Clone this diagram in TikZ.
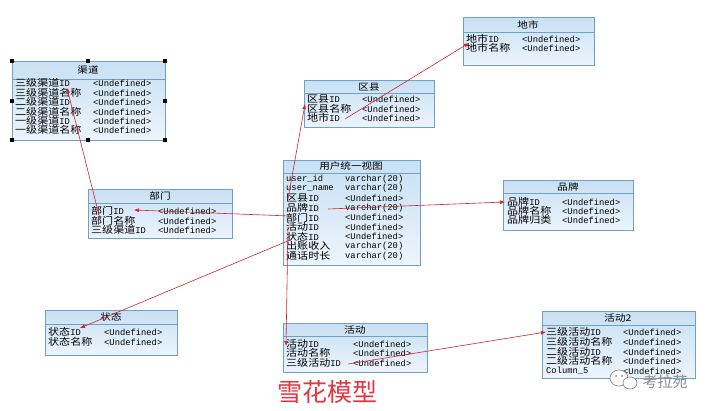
\documentclass[tikz,border=0pt]{standalone}
\usepackage{fontspec}
\setmonofont{Liberation Mono}
\newfontfamily\zhf[FakeStretch=1.15]{Noto Sans CJK SC}
\newfontfamily\zhtitle{Noto Sans CJK SC}
\newcommand\zh[1]{{\zhf\fontsize{9.6}{9}\selectfont #1}}
\usetikzlibrary{arrows.meta}
\definecolor{boxc}{RGB}{110,160,200}
\definecolor{topc}{RGB}{200,224,243}
\definecolor{botc}{RGB}{236,244,252}
\definecolor{lnc}{RGB}{215,35,40}
\definecolor{ttl}{RGB}{232,50,60}
\definecolor{wm}{RGB}{140,140,140}
\tikzset{
 tbl/.style={draw=boxc, line width=0.9pt, top color=topc, bottom color=botc},
 sep/.style={draw=boxc, line width=0.6pt},
 hdr/.style={inner sep=0pt, font=\zhf\fontsize{9.2}{9}\selectfont},
 row/.style={anchor=west, inner sep=0pt, font=\ttfamily\fontsize{8.8}{9}\selectfont},
 rel/.style={draw=lnc, line width=0.6pt, -{Latex[length=5pt,width=4pt]}},
 handle/.style={fill=black, minimum size=4pt, inner sep=0pt},
}
\begin{document}
\begin{tikzpicture}[x=1pt,y=-1pt]
\useasboundingbox (0,0) rectangle (714,410);
\fill[white] (0,0) rectangle (714,410);

% ---------- 渠道
\draw[tbl] (12,61) rectangle (165,140);
\draw[sep] (12,79) -- (165,79);
\node[hdr] (qdh) at (88,70) {渠道};
\node[row] (qd1) at (15,83) {\zh{三级渠道}ID};
\node[row] (qd2) at (15,93) {\zh{三级渠道名称}};
\node[row] (qd3) at (15,102) {\zh{二级渠道}ID};
\node[row] (qd4) at (15,112) {\zh{二级渠道名称}};
\node[row] (qd5) at (15,121) {\zh{一级渠道}ID};
\node[row] (qd6) at (15,130) {\zh{一级渠道名称}};
\foreach \y/\n in {83/1,93/2,102/3,112/4,121/5,130/6}
  \node[row] (qdt\n) at (93,\y) {<Undefined>};
\foreach \p/\q [count=\i] in {12/61,88/61,165/61,12/101,165/101,12/140,88/140,165/140}
  \node[handle] (hd\i) at (\p,\q) {};

% ---------- 部门
\draw[tbl] (88,189) rectangle (232,238);
\draw[sep] (88,203) -- (232,203);
\node[hdr] (bmh) at (160,196) {部门};
\node[row] (bm1) at (91,211) {\zh{部门}ID};
\node[row] (bm2) at (91,221) {\zh{部门名称}};
\node[row] (bm3) at (91,230) {\zh{三级渠道}ID};
\foreach \y/\n in {211/1,221/2,230/3}
  \node[row] (bmt\n) at (158,\y) {<Undefined>};

% ---------- 区县
\draw[tbl] (304,80) rectangle (434,127);
\draw[sep] (304,93) -- (434,93);
\node[hdr] (qxh) at (369,87) {区县};
\node[row] (qx1) at (307,99) {\zh{区县}ID};
\node[row] (qx2) at (307,109) {\zh{区县名称}};
\node[row] (qx3) at (307,118) {\zh{地市}ID};
\foreach \y/\n in {99/1,109/2,118/3}
  \node[row] (qxt\n) at (362,\y) {<Undefined>};

% ---------- 地市
\draw[tbl] (463,17) rectangle (594,65);
\draw[sep] (463,32) -- (594,32);
\node[hdr] (dsh) at (528,25) {地市};
\node[row] (ds1) at (466,39) {\zh{地市}ID};
\node[row] (ds2) at (466,48) {\zh{地市名称}};
\foreach \y/\n in {39/1,48/2}
  \node[row] (dst\n) at (522,\y) {<Undefined>};

% ---------- 用户统一视图
\draw[tbl] (283,160) rectangle (420,265);
\draw[sep] (283,173) -- (420,173);
\node[hdr] (yhh) at (351,166) {用户统一视图};
\node[row] (yh1) at (286,179) {user\_id};
\node[row] (yh2) at (286,188.6) {user\_name};
\node[row] (yh3) at (286,198.2) {\zh{区县}ID};
\node[row] (yh4) at (286,207.8) {\zh{品牌}ID};
\node[row] (yh5) at (286,217.4) {\zh{部门}ID};
\node[row] (yh6) at (286,227) {\zh{活动}ID};
\node[row] (yh7) at (286,236.6) {\zh{状态}ID};
\node[row] (yh8) at (286,246.2) {\zh{出账收入}};
\node[row] (yh9) at (286,255.8) {\zh{通话时长}};
\node[row] (yht1) at (345,179) {varchar(20)};
\node[row] (yht2) at (345,188.6) {varchar(20)};
\node[row] (yht3) at (345,198.2) {<Undefined>};
\node[row] (yht4) at (345,207.8) {varchar(20)};
\node[row] (yht5) at (345,217.4) {<Undefined>};
\node[row] (yht6) at (345,227) {<Undefined>};
\node[row] (yht7) at (345,236.6) {<Undefined>};
\node[row] (yht8) at (345,246.2) {varchar(20)};
\node[row] (yht9) at (345,255.8) {varchar(20)};

% ---------- 品牌
\draw[tbl] (503,180) rectangle (633,230);
\draw[sep] (503,193) -- (633,193);
\node[hdr] (pph) at (568,187) {品牌};
\node[row] (pp1) at (507,202) {\zh{品牌}ID};
\node[row] (pp2) at (507,211) {\zh{品牌名称}};
\node[row] (pp3) at (507,220) {\zh{品牌归类}};
\foreach \y/\n in {202/1,211/2,220/3}
  \node[row] (ppt\n) at (562,\y) {<Undefined>};

% ---------- 状态
\draw[tbl] (45,310) rectangle (177,355);
\draw[sep] (45,324) -- (177,324);
\node[hdr] (zth) at (111,317) {状态};
\node[row] (zt1) at (48,332) {\zh{状态}ID};
\node[row] (zt2) at (48,342) {\zh{状态名称}};
\foreach \y/\n in {332/1,342/2}
  \node[row] (ztt\n) at (104,\y) {<Undefined>};

% ---------- 活动
\draw[tbl] (283,323) rectangle (427,372);
\draw[sep] (283,336) -- (427,336);
\node[hdr] (hdh) at (355,330) {活动};
\node[row] (hda1) at (286,344) {\zh{活动}ID};
\node[row] (hda2) at (286,353) {\zh{活动名称}};
\node[row] (hda3) at (286,363) {\zh{三级活动}ID};
\foreach \y/\n in {344/1,353/2,363/3}
  \node[row] (hdat\n) at (353,\y) {<Undefined>};

% ---------- 活动2
\draw[tbl] (542,311) rectangle (695,378);
\draw[sep] (542,325) -- (695,325);
\node[hdr] (hbh) at (618,318) {活动2};
\node[row] (hb1) at (546,332) {\zh{三级活动}ID};
\node[row] (hb2) at (546,342) {\zh{三级活动名称}};
\node[row] (hb3) at (546,352) {\zh{二级活动}ID};
\node[row] (hb4) at (546,361) {\zh{二级活动名称}};
\node[row] (hb5) at (546,371) {Column\_5};
\foreach \y/\n in {332/1,342/2,352/3,361/4,371/5}
  \node[row] (hbt\n) at (623,\y) {<Undefined>};

% ---------- connector end points
\coordinate (bmS) at (100,219);   \coordinate (qdE) at (67,88);
\coordinate (yhBm) at (290,216);  \coordinate (bmE) at (134,210);
\coordinate (yhQx) at (288,199);  \coordinate (qxE) at (305,104);
\coordinate (qxDs) at (345,119);  \coordinate (dsE) at (469,43);
\coordinate (yhPp) at (328,209);  \coordinate (ppE) at (505,202);
\coordinate (yhZt) at (290,240);  \coordinate (ztE) at (80,328);
\coordinate (yhHd) at (288,227);  \coordinate (hdE) at (286,346);
\coordinate (hdHb) at (348,364);  \coordinate (hbE) at (546,332);

\draw[rel] (bmS) -- (qdE);
\draw[rel] (yhBm) -- (bmE);
\draw[rel] (yhQx) -- (qxE);
\draw[rel] (qxDs) -- (dsE);
\draw[rel] (yhPp) -- (ppE);
\draw[rel] (yhZt) -- (ztE);
\draw[rel] (yhHd) -- (hdE);
\draw[rel] (hdHb) -- (hbE);

% ---------- title
\node[text=ttl, inner sep=0pt, font=\zhtitle\fontsize{25}{25}\selectfont] (title) at (327,392) {雪花模型};

% ---------- watermark
\draw[wm, fill=white, line width=0.7pt] (619,378) ellipse (9pt and 8pt);
\draw[wm, fill=white, line width=0.7pt] (630,383) ellipse (7pt and 6pt);
\fill[wm] (616,376) circle (1pt) (622,376) circle (1pt);
\node[text=wm, inner sep=0pt, font=\zhtitle\fontsize{15}{15}\selectfont] (wmt) at (665,382) {考拉苑};
\end{tikzpicture}
\end{document}
